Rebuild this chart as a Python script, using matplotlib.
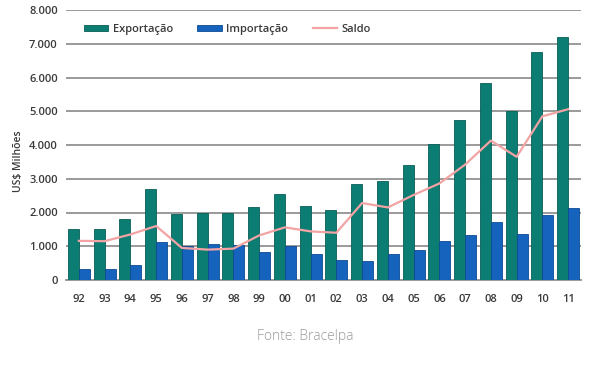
import matplotlib.pyplot as plt
import numpy as np

plt.rcParams['font.family'] = ['Open Sans', 'DejaVu Sans']

anos = ['92', '93', '94', '95', '96', '97', '98', '99', '00', '01',
        '02', '03', '04', '05', '06', '07', '08', '09', '10', '11']
exportacao = [1500, 1510, 1800, 2700, 1950, 2000, 2000, 2150, 2550, 2200,
              2070, 2850, 2930, 3400, 4030, 4750, 5850, 5000, 6750, 7200]
importacao = [320, 340, 450, 1120, 1000, 1060, 1050, 830, 1000, 760,
              590, 570, 760, 880, 1150, 1320, 1720, 1360, 1920, 2140]
saldo = [1160, 1150, 1350, 1600, 950, 900, 930, 1320, 1560, 1440,
         1400, 2280, 2150, 2520, 2860, 3420, 4130, 3650, 4850, 5060]

fig = plt.figure(figsize=(6.13, 3.75), dpi=100)
ax = fig.add_axes([66/613, 1 - 280/375, (581-66)/613, (280-10)/375])

x = np.arange(len(anos))
w = 0.43
b1 = ax.bar(x - w/2, exportacao, w, color='#0b7d73', edgecolor='#085e57', linewidth=0.6,
            label='Exportação', zorder=3)
b2 = ax.bar(x + w/2, importacao, w, color='#1663bd', edgecolor='#0d4a92', linewidth=0.6,
            label='Importação', zorder=3)
l1, = ax.plot(x, saldo, color='#f2a3a3', linewidth=1.6, label='Saldo', zorder=4)

ax.set_xlim(-0.5, len(anos) - 0.5)
ax.set_ylim(0, 8000)
ax.set_yticks(range(0, 8001, 1000))
ax.set_yticklabels(['0' if v == 0 else f'{v//1000}.000' for v in range(0, 8001, 1000)])
ax.set_xticks(x)
ax.set_xticklabels(anos)
ax.yaxis.grid(True, color='#9a9a9a', linewidth=1.4, zorder=0)
ax.set_axisbelow(True)
for s in ['left', 'right', 'top']:
    ax.spines[s].set_visible(False)
ax.spines['bottom'].set_color('#9a9a9a')
ax.spines['bottom'].set_linewidth(1.4)
ax.tick_params(length=0, labelsize=8, colors='#3a3a3a', pad=6)
ax.tick_params(axis='x', pad=10)
for lab in ax.get_xticklabels() + ax.get_yticklabels():
    lab.set_fontweight('semibold')
ax.set_ylabel('US$ Milhões', fontsize=7.5, color='#3a3a3a', fontweight='semibold')
ax.yaxis.set_label_coords(-0.082, 0.44)

leg = ax.legend([b1, b2, l1], ['Exportação', 'Importação', 'Saldo'],
                loc='upper left', bbox_to_anchor=(0.015, 0.985), ncol=3, frameon=False,
                fontsize=8, handlelength=2.2, handleheight=0.5, columnspacing=2.2,
                handletextpad=0.4)
for t in leg.get_texts():
    t.set_color('#3a3a3a')
    t.set_fontweight('semibold')

fig.text(305/613, 1 - 337/375, 'Fonte: Bracelpa', ha='center', va='center',
         fontsize=10, color='#9a9a9a', fontweight='light')

fig.savefig('out.png', dpi=100)
